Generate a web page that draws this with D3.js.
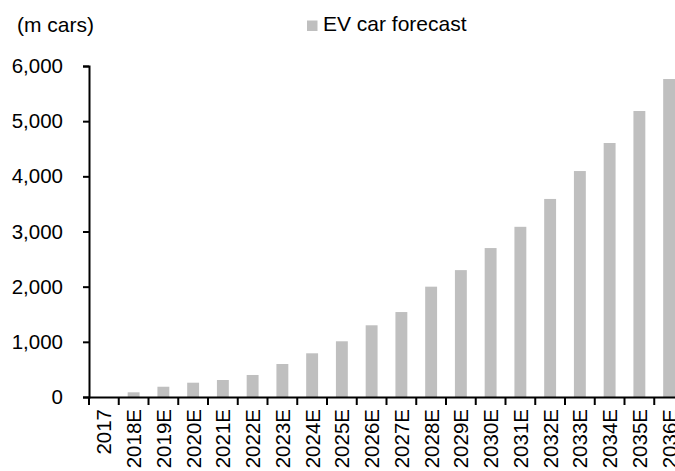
<!DOCTYPE html>
<html>
<head>
<meta charset="utf-8">
<script src="https://cdn.jsdelivr.net/npm/d3@7"></script>
<style>
  body { margin: 0; background: #fff; }
  text { font-family: "Liberation Sans", Arial, sans-serif; fill: #000; }
</style>
</head>
<body>
<div id="chart"></div>
<script>
const years = ['2017', '2018E', '2019E', '2020E', '2021E', '2022E', '2023E', '2024E', '2025E', '2026E',
    '2027E', '2028E', '2029E', '2030E', '2031E', '2032E', '2033E', '2034E', '2035E', '2036E']
const evCars = [0, 85, 186, 259, 308, 399, 598, 792, 1010, 1300,
    1540, 2000, 2300, 2700, 3085, 3590, 4096, 4604, 5184, 5764]
const yTicks = [0, 1000, 2000, 3000, 4000, 5000, 6000]
const unitLabel = '(m cars)'
const seriesName = 'EV car forecast'

const width = 675
const height = 471
const barColor = '#bfbfbf'

const svg = d3.select('#chart').append('svg')
    .attr('width', width)
    .attr('height', height)

// plot runs past the right edge, the last band is clipped like the original
const x = d3.scaleBand()
    .domain(years)
    .range([89, 684])
    .paddingInner(0.6)
    .paddingOuter(0.3)

const y = d3.scaleLinear()
    .domain([0, 6000])
    .range([397, 66])

// bars
svg.append('g')
    .selectAll('rect')
    .data(years)
    .join('rect')
    .attr('x', d => x(d))
    .attr('y', (d, i) => y(evCars[i]))
    .attr('width', x.bandwidth())
    .attr('height', (d, i) => y(0) - y(evCars[i]))
    .attr('fill', barColor)

// y axis
const yAxis = d3.axisLeft(y)
    .tickValues(yTicks)
    .tickSize(6)
    .tickPadding(20)
    .tickFormat(d3.format(','))

const yAxisG = svg.append('g')
    .attr('transform', `translate(${x.range()[0]},0)`)
    .call(yAxis)
yAxisG.select('.domain').attr('stroke', '#000').attr('stroke-width', 2)
yAxisG.selectAll('.tick line').attr('stroke', '#000').attr('stroke-width', 2)
yAxisG.selectAll('.tick text')
    .style('font-size', '20.5px')
    .attr('font-family', null)

// x axis: labels at band centres, ticks at band boundaries
const xAxis = d3.axisBottom(x).tickSize(0).tickSizeOuter(0)
const xAxisG = svg.append('g')
    .attr('transform', `translate(0,${y(0)})`)
    .call(xAxis)
xAxisG.select('.domain').attr('stroke', '#000').attr('stroke-width', 2)
xAxisG.selectAll('.tick text')
    .attr('transform', 'rotate(-90)')
    .attr('text-anchor', 'end')
    .attr('x', -12)
    .attr('y', 0)
    .attr('dy', '0.36em')
    .style('font-size', '20.5px')
    .attr('font-family', null)

const bounds = years.map(d => x(d) + x.bandwidth() / 2 - x.step() / 2)
bounds.push(bounds[bounds.length - 1] + x.step())
xAxisG.selectAll('.bound')
    .data(bounds)
    .join('line')
    .attr('class', 'bound')
    .attr('x1', d => d)
    .attr('x2', d => d)
    .attr('y1', 0)
    .attr('y2', 8)
    .attr('stroke', '#000')
    .attr('stroke-width', 2)

// unit label
svg.append('text')
    .attr('x', 17)
    .attr('y', 32)
    .style('font-size', '21px')
    .text(unitLabel)

// legend
svg.append('rect')
    .attr('x', 307)
    .attr('y', 20.5)
    .attr('width', 10.5)
    .attr('height', 10.5)
    .attr('fill', barColor)
svg.append('text')
    .attr('x', 323)
    .attr('y', 31)
    .style('font-size', '21px')
    .text(seriesName)
</script>
</body>
</html>
